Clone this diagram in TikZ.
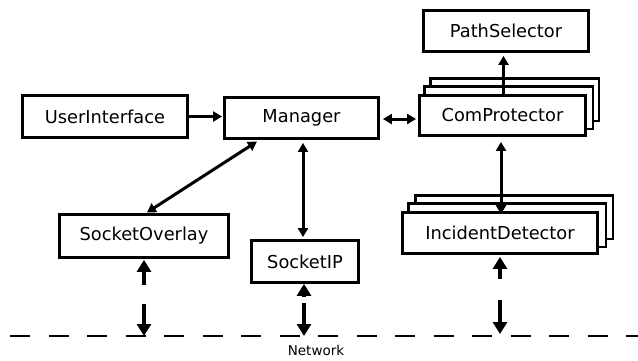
\documentclass[tikz,border=0pt]{standalone}
\usepackage{fontspec}
\setmainfont{DejaVu Sans}
\usetikzlibrary{arrows.meta,backgrounds}
\begin{document}
\begin{tikzpicture}[x=1pt,y=-1pt,
  box/.style={draw,line width=2.8pt,fill=white,inner sep=0pt,
    font=\fontsize{17.8}{20}\selectfont},
  conn/.style={line width=3pt},
  tipm/.tip={Triangle[length=9pt,width=10pt]},
  tipb/.tip={Triangle[length=12pt,width=14pt]},
  netarrow/.style={line width=4.6pt,tipb-tipb},
  backbox/.style={draw,line width=2.8pt,fill=white}]
\useasboundingbox (0,0) rectangle (638,360);
\node[box,minimum width=165pt,minimum height=42pt] (ui) at (105,116.5) {UserInterface};
\node[box,minimum width=154pt,minimum height=41pt] (mgr) at (301.5,118) {Manager};
\node[box,minimum width=166pt,minimum height=40pt] (cp) at (502.5,115.5) {ComProtector};
\node[box,minimum width=165pt,minimum height=41pt] (ps) at (506,31) {PathSelector};
\node[box,minimum width=169pt,minimum height=43pt] (so) at (144,236) {SocketOverlay};
\node[box,minimum width=107pt,minimum height=42pt] (sip) at (305,261.5) {SocketIP};
\node[box,minimum width=195pt,minimum height=41pt] (id) at (500,233) {IncidentDetector};
\begin{scope}[on background layer]
  \draw[backbox] ([shift={(12,-16)}]cp.south west) rectangle ([shift={(12,-16)}]cp.north east);
  \draw[backbox] ([shift={(6,-8)}]cp.south west) rectangle ([shift={(6,-8)}]cp.north east);
  \draw[backbox] ([shift={(14,-16)}]id.south west) rectangle ([shift={(14,-16)}]id.north east);
  \draw[backbox] ([shift={(7,-8)}]id.south west) rectangle ([shift={(7,-8)}]id.north east);
\end{scope}
% network line
\coordinate (netL) at (10,336);
\coordinate (netR) at (638,336);
\draw[line width=2.2pt,dash pattern=on 20pt off 18.5pt] (netL) -- (netR);
\node[font=\fontsize{13.5}{15}\selectfont,inner sep=0pt] (net) at (316,350) {Network};
% connectors
\draw[conn,-tipm,shorten >=1pt] (ui.east) -- (ui.east -| mgr.west);
\draw[conn,tipm-tipm,shorten <=3pt,shorten >=2pt] ([yshift=-1pt]mgr.east) -- ([yshift=-1pt]mgr.east -| cp.west);
\draw[conn,-tipm,shorten >=3pt] ([xshift=1pt]cp.north) -- ([xshift=1pt]cp.north |- ps.south);
\draw[conn,tipm-tipm,shorten <=5pt,shorten >=-3pt] ([xshift=-1.5pt]cp.south) -- ([xshift=-1.5pt]cp.south |- id.north);
\draw[conn,tipm-tipm,shorten <=3pt,shorten >=1pt] ([xshift=-42pt]mgr.south) -- ([xshift=2pt]so.north);
\draw[conn,tipm-tipm,shorten <=3pt,shorten >=2pt] ([xshift=-2pt]sip.north |- mgr.south) -- ([xshift=-2pt]sip.north);
% network arrows
\draw[netarrow,dash pattern=on 14pt off 19pt on 200pt,shorten <=1pt] (so.south) -- (so.south |- netL);
\draw[netarrow,dash pattern=on 2pt off 6pt on 200pt,shorten <=0pt] ([xshift=-1pt]sip.south) -- ([xshift=-1pt]sip.south |- netL);
\draw[netarrow,dash pattern=on 11pt off 21pt on 200pt,shorten <=2pt,shorten >=2pt] (id.south) -- (id.south |- netL);
\end{tikzpicture}
\end{document}
